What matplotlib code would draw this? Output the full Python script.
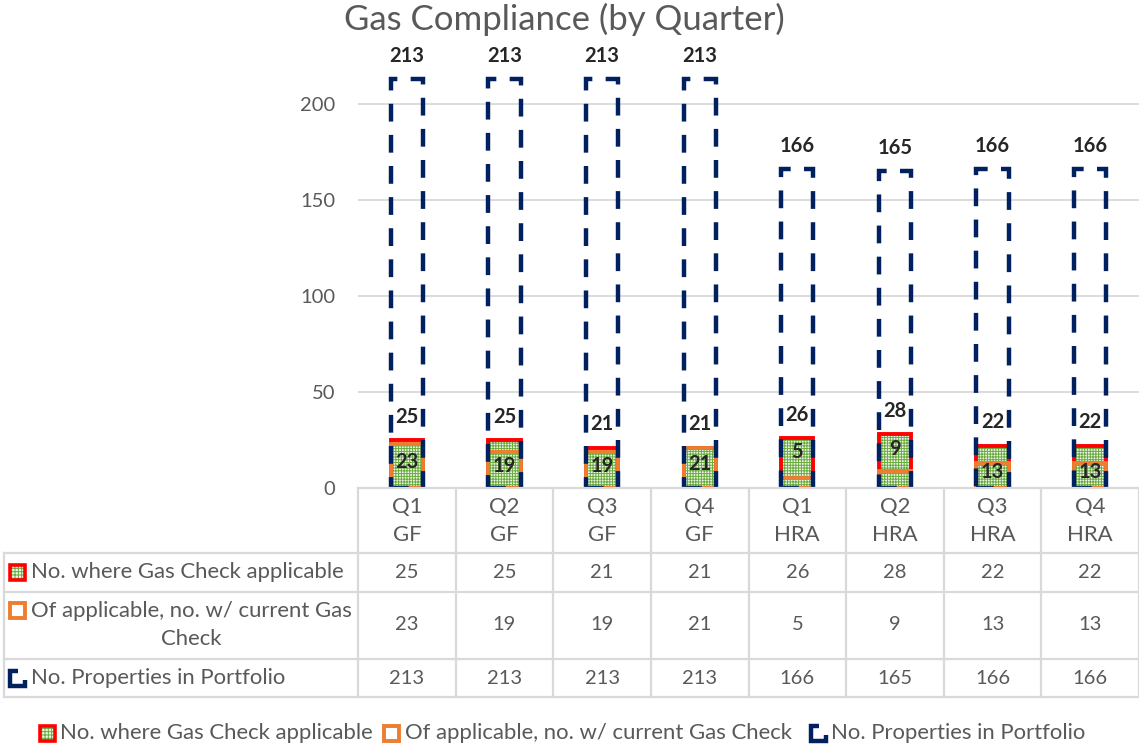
import numpy as np
import matplotlib.pyplot as plt
from matplotlib.patches import Rectangle
from matplotlib.transforms import blended_transform_factory

# chart data
categories = ['Q1\nGF', 'Q2\nGF', 'Q3\nGF', 'Q4\nGF', 'Q1\nHRA', 'Q2\nHRA', 'Q3\nHRA', 'Q4\nHRA']
applicable = [25, 25, 21, 21, 26, 28, 22, 22]
current = [23, 19, 19, 21, 5, 9, 13, 13]
portfolio = [213, 213, 213, 213, 166, 165, 166, 166]
series_names = ['No. where Gas Check applicable',
                'Of applicable, no. w/ current Gas Check',
                'No. Properties in Portfolio']
yticks = [0, 50, 100, 150, 200]

# colours
TXT = '#595959'
LBL = '#262626'
GRID = '#d9d9d9'
GREEN = '#6aab3f'
GREEN_BG = '#eef6e8'
RED = '#ff0000'
ORANGE = '#ed7d31'
NAVY = '#002060'
HATCH = '++++++'

plt.rcParams['font.family'] = ['Lato', 'DejaVu Sans']
plt.rcParams['hatch.linewidth'] = 0.7

W, H = 1139, 745
fig = plt.figure(figsize=(W / 100, H / 100), dpi=100)

# plot area in pixels
ax_l, ax_r, ax_b = 358, 1139, 488
ymax = 230
ax_t = ax_b - ymax * 1.92
ax = fig.add_axes([ax_l / W, (H - ax_b) / H, (ax_r - ax_l) / W, (ax_b - ax_t) / H])

x = np.arange(len(categories))
bw = 0.33

# bars, all overlapping
ax.bar(x, applicable, bw, facecolor=GREEN_BG, edgecolor=GREEN, hatch=HATCH, linewidth=0, zorder=2)
ax.bar(x, applicable, bw, facecolor='none', edgecolor=RED, linewidth=2.8, zorder=3)
ax.bar(x, current, bw, facecolor='none', edgecolor=ORANGE, linewidth=2.8, zorder=4)
ax.bar(x, portfolio, bw, facecolor='none', edgecolor=NAVY, linewidth=3.2,
       linestyle=(0, (4, 3)), zorder=5)

# data labels
lbl_kw = dict(fontsize=14.5, fontweight='bold', color=LBL, zorder=7)
for xi, a, c, p in zip(x, applicable, current, portfolio):
    ax.annotate(str(p), (xi, p), xytext=(0, 12.5), textcoords='offset points',
                ha='center', va='baseline', **lbl_kw)
    ax.annotate(str(a), (xi, a), xytext=(0, 12.5), textcoords='offset points',
                ha='center', va='baseline', **lbl_kw)
    cy = c / 2 + 2 if c >= 12 else 0.72 * a
    ax.text(xi, cy, str(c), ha='center', va='center', **lbl_kw)

ax.set_xlim(-0.5, len(categories) - 0.5)
ax.set_ylim(0, ymax)
ax.set_yticks(yticks)
ax.set_xticks([])
ax.yaxis.grid(True, color=GRID, linewidth=1.3)
ax.set_axisbelow(True)
ax.tick_params(axis='y', length=0, labelsize=14.5, labelcolor=TXT, pad=16.5)
for s in ax.spines.values():
    s.set_visible(False)

fig.text(564 / W, 1 - 19 / H, 'Gas Compliance (by Quarter)', ha='center', va='center',
         fontsize=25, color=TXT)

# overlay axes for the data table and legend (pixel coords)
ov = fig.add_axes([0, 0, 1, 1])
ov.set_xlim(0, W)
ov.set_ylim(H, 0)
ov.axis('off')
bt = blended_transform_factory(ax.transData, ov.transData)

row_lines = [553, 592, 659, 697]
ov.plot([ax_l, W], [ax_b, ax_b], color=GRID, lw=1.6)
for ry in row_lines:
    ov.plot([4, W], [ry, ry], color=GRID, lw=1.6)
for k in range(len(categories) + 1):
    ov.plot([k - 0.5, k - 0.5], [ax_b, row_lines[-1]], color=GRID, lw=1.6, transform=bt)
ov.plot([4, 4], [row_lines[0], row_lines[-1]], color=GRID, lw=1.6)

nkw = dict(fontsize=14.5, color=TXT)
tkw = dict(fontsize=15.9, color=TXT)
row_y = [572, 625, 678]
for i, cat in enumerate(categories):
    ov.text(i, 521, cat, ha='center', va='center', linespacing=1.55, transform=bt, **tkw)
    for vals, ry in zip([applicable, current, portfolio], row_y):
        ov.text(i, ry, str(vals[i]), ha='center', va='center', transform=bt, **nkw)


def draw_key(kind, x0, yc, s=15):
    if kind == 0:
        ov.add_patch(Rectangle((x0, yc - s / 2), s, s, facecolor=GREEN_BG, edgecolor=GREEN,
                               hatch='+++++', linewidth=0))
        ov.add_patch(Rectangle((x0, yc - s / 2), s, s, facecolor='none', edgecolor=RED,
                               linewidth=2.6))
    elif kind == 1:
        ov.add_patch(Rectangle((x0, yc - s / 2), s, s, facecolor='white', edgecolor=ORANGE,
                               linewidth=2.8))
    else:
        t, b = yc - s / 2, yc + s / 2
        ov.plot([x0 + s * 0.55, x0, x0, x0 + s, x0 + s], [t, t, b, b, b - s * 0.35],
                color=NAVY, lw=3.2, solid_joinstyle='miter', solid_capstyle='butt')


# row headers of the table
draw_key(0, 10, 572)
ov.text(31, 572, series_names[0], ha='left', va='center', **tkw)
draw_key(1, 10, 610)
ov.text(191, 625, 'Of applicable, no. w/ current Gas\nCheck', ha='center', va='center',
        multialignment='center', linespacing=1.55, **tkw)
draw_key(2, 10, 678)
ov.text(31, 678, series_names[2], ha='left', va='center', **tkw)

# legend at the bottom
for kind, kx, tx in zip(range(3), [40, 384, 811], [60, 405, 831]):
    draw_key(kind, kx, 733)
    ov.text(tx, 733, series_names[kind], ha='left', va='center', **tkw)

fig.savefig('out.png', dpi=100)
